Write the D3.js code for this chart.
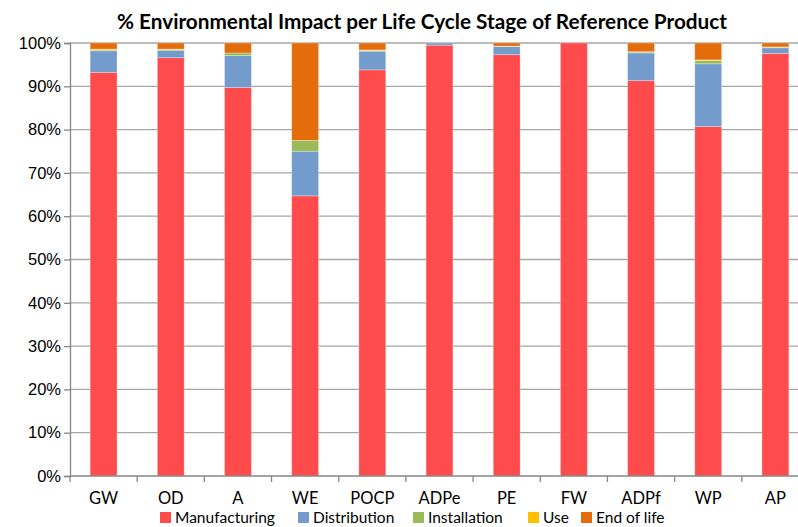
<!DOCTYPE html>
<html>
<head>
<meta charset="utf-8">
<script src="https://cdn.jsdelivr.net/npm/d3@7"></script>
<style>
  body { margin: 0; background: #fff; overflow: hidden; }
  svg { display: block; }
</style>
</head>
<body>
<div id="chart"></div>
<script>
// categories and stages
var categories = ["GW", "OD", "A", "WE", "POCP", "ADPe", "PE", "FW", "ADPf", "WP", "AP"]
var stages = ["Manufacturing", "Distribution", "Installation", "Use", "End of life"]

// % share per stage
var manufacturing = [93.2, 96.6, 89.7, 64.7, 93.8, 99.5, 97.3, 100, 91.3, 80.7, 97.6]
var distribution  = [5.0, 1.7, 7.4, 10.3, 4.3, 0.5, 1.9, 0, 6.4, 14.5, 1.3]
var installation  = [0.2, 0.2, 0.6, 2.5, 0.2, 0, 0.05, 0, 0.2, 0.8, 0.1]
var use           = [0.2, 0.1, 0, 0, 0.1, 0, 0.05, 0, 0.1, 0.1, 0.1]
var endOfLife     = [1.4, 1.4, 2.3, 22.5, 1.6, 0, 0.7, 0, 2.0, 3.9, 0.9]

var yTicks = [0, 10, 20, 30, 40, 50, 60, 70, 80, 90, 100]

var colors = ["#FF4B4B", "#739CCD", "#9BBB59", "#FFC000", "#E46C0A"]

var series = [manufacturing, distribution, installation, use, endOfLife]
var rows = categories.map(function(c, i) {
  var r = {cat: c}
  stages.forEach(function(s, k) { r[s] = series[k][i] })
  return r
})

var width = 798, height = 527
var margin = {top: 43, left: 70}
var plotW = 739, plotH = 433

var svg = d3.select("#chart").append("svg")
  .attr("width", width)
  .attr("height", height)
  .style("font-family", "Lato, 'Open Sans', sans-serif")

svg.append("text")
  .attr("x", 422)
  .attr("y", 29)
  .attr("text-anchor", "middle")
  .attr("font-size", 20.5)
  .attr("font-weight", "bold")
  .attr("fill", "#000")
  .attr("textLength", 610)
  .attr("lengthAdjust", "spacingAndGlyphs")
  .text("% Environmental Impact per Life Cycle Stage of Reference Product")

var g = svg.append("g").attr("transform", "translate(" + margin.left + "," + margin.top + ")")

var x = d3.scaleBand().domain(categories).range([0, plotW]).paddingInner(0.6).paddingOuter(0.3)
var y = d3.scaleLinear().domain([0, 100]).range([plotH, 0])

// gridlines
g.selectAll(".grid").data(yTicks.slice(1)).enter().append("line")
  .attr("x1", 0).attr("x2", plotW)
  .attr("y1", function(d) { return y(d) }).attr("y2", function(d) { return y(d) })
  .attr("stroke", "#A6A6A6").attr("stroke-width", 1.3)

var stack = d3.stack().keys(stages)(rows)

g.selectAll(".layer").data(stack).enter().append("g")
  .attr("fill", function(d, i) { return colors[i] })
  .selectAll("rect").data(function(d) { return d }).enter().append("rect")
  .attr("x", function(d) { return x(d.data.cat) })
  .attr("width", x.bandwidth())
  .attr("y", function(d) { return y(d[1]) })
  .attr("height", function(d) { return y(d[0]) - y(d[1]) })
  .attr("stroke", "#fff").attr("stroke-opacity", 0.35).attr("stroke-width", 0.8)

// y axis
var yAxis = g.append("g")
  .call(d3.axisLeft(y).tickValues(yTicks).tickFormat(function(d) { return d + "%" }).tickSize(6).tickPadding(3))
yAxis.select(".domain").attr("stroke", "#868686").attr("stroke-width", 1.3)
yAxis.selectAll(".tick line").attr("stroke", "#868686").attr("stroke-width", 1.3)
yAxis.selectAll("text").attr("font-size", 16.5).attr("fill", "#000")

// x axis
var xTickPos = d3.range(categories.length + 1).map(function(i) { return i * plotW / categories.length })
var xAxis = g.append("g").attr("transform", "translate(0," + plotH + ")")
xAxis.append("line").attr("x1", 0).attr("x2", plotW).attr("stroke", "#868686").attr("stroke-width", 1.3)
xAxis.selectAll(".xt").data(xTickPos).enter().append("line")
  .attr("x1", function(d) { return d }).attr("x2", function(d) { return d })
  .attr("y1", 0).attr("y2", 6)
  .attr("stroke", "#868686").attr("stroke-width", 1.3)
xAxis.selectAll(".xl").data(categories).enter().append("text")
  .attr("x", function(d) { return x(d) + x.bandwidth() / 2 })
  .attr("y", 28)
  .attr("text-anchor", "middle")
  .attr("font-size", 16.5)
  .text(function(d) { return d })

// legend
var legendX = [160, 298, 413, 528, 581]
var legend = svg.selectAll(".legend").data(stages).enter().append("g")
  .attr("transform", function(d, i) { return "translate(" + legendX[i] + ",512)" })
legend.append("rect").attr("width", 11).attr("height", 11).attr("fill", function(d, i) { return colors[i] })
legend.append("text").attr("x", 15).attr("y", 11).attr("font-size", 15.5).text(function(d) { return d })
</script>
</body>
</html>
